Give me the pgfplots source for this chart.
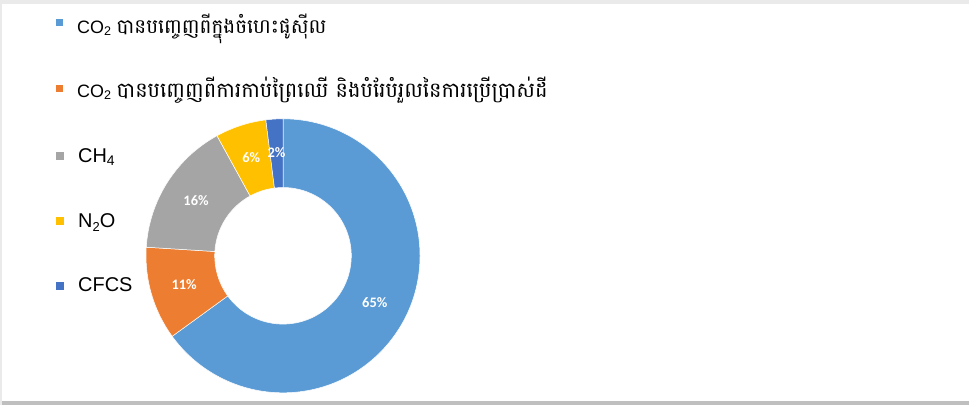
\documentclass[border=0pt]{standalone}
\usepackage{pgfplots}
\pgfplotsset{compat=1.18}
\usepackage{pgfplotstable}
\usepackage{fontspec}
\setmainfont{Liberation Sans}
\newfontfamily\khmer[Script=Khmer]{Battambang}
\newfontfamily\pctfamily{Carlito}
\definecolor{cblue}{HTML}{5B9BD5}
\definecolor{corange}{HTML}{ED7D31}
\definecolor{cgray}{HTML}{A5A5A5}
\definecolor{cyellow}{HTML}{FFC000}
\definecolor{cdblue}{HTML}{4472C4}
\definecolor{bandtop}{HTML}{EAEAEA}
\definecolor{bandbot}{HTML}{BFBFBF}
\pgfplotstableread{
v c
65 cblue
11 corange
16 cgray
6 cyellow
2 cdblue
}\donutdata
\newcommand\pctfont{\pctfamily\bfseries\fontsize{14.5}{14.5}\selectfont}
\newcommand\kh{\khmer\fontsize{20}{20}\selectfont}
\newcommand\khb{\khmer\fontsize{21}{21}\selectfont}
\begin{document}
\begin{tikzpicture}[x=1bp,y=1bp]
\fill[white] (0,0) rectangle (969,405);
\fill[bandtop] (0,401) rectangle (969,405);
\fill[bandbot] (0,0) rectangle (969,4);
\fill[bandtop] (0,0) rectangle (2,405);
\begin{axis}[at={(283bp,149.2bp)}, anchor=center, width=274bp, height=274bp,
  scale only axis, xmin=-1, xmax=1, ymin=-1, ymax=1, hide axis, clip=false]
\def\cum{0}
\pgfplotsforeachungrouped \i in {0,...,4}{%
  \pgfplotstablegetelem{\i}{v}\of\donutdata \let\v\pgfplotsretval
  \pgfplotstablegetelem{\i}{c}\of\donutdata \let\c\pgfplotsretval
  \pgfmathsetmacro\a{90-3.6*\cum}%
  \pgfmathsetmacro\b{90-3.6*(\cum+\v)}%
  \pgfmathsetmacro\m{(\a+\b)/2}%
  \pgfmathsetmacro\cum{\cum+\v}%
  \edef\temp{\noexpand\fill[\c, draw=white, line width=0.5bp]
    ([shift={(\a:137bp)}]axis cs:0,0) arc[start angle=\a, end angle=\b, radius=137bp]
    -- ([shift={(\b:68.3bp)}]axis cs:0,0) arc[start angle=\b, end angle=\a, radius=68.3bp] -- cycle;
    \noexpand\node[font=\noexpand\pctfont, text=white, inner sep=0pt] at ([shift={(\m:103bp)}]axis cs:0,0) {\v\noexpand\%};}%
  \temp
}
\end{axis}
% legend
\fill[cblue] (56,379.3) rectangle (63,386.3);
\fill[corange] (56,313.5) rectangle (63,320.5);
\fill[cgray] (56,245.5) rectangle (64,253.5);
\fill[cyellow] (56,180.5) rectangle (64,188.5);
\fill[cdblue] (56,115.5) rectangle (64,123.5);
\node[anchor=base west, inner sep=0pt, font=\fontsize{18}{18}\selectfont] at (77,372) {CO\textsubscript{2} {\kh បានបញ្ចេញពីក្នុងចំហេះផូស៊ីល}};
\node[anchor=base west, inner sep=0pt, font=\fontsize{18}{18}\selectfont] at (77,308) {CO\textsubscript{2} {\khb បានបញ្ចេញពីការកាប់ព្រៃឈើ និងបំរែបំរួលនៃការប្រើប្រាស់ដី}};
\node[anchor=base west, inner sep=0pt, font=\fontsize{20}{20}\selectfont] at (78,243) {CH\textsubscript{4}};
\node[anchor=base west, inner sep=0pt, font=\fontsize{20}{20}\selectfont] at (78,178) {N\raisebox{-4bp}{\fontsize{13}{13}\selectfont 2}O};
\node[anchor=base west, inner sep=0pt, font=\fontsize{20}{20}\selectfont] at (78,114) {CFCS};
\end{tikzpicture}
\end{document}
